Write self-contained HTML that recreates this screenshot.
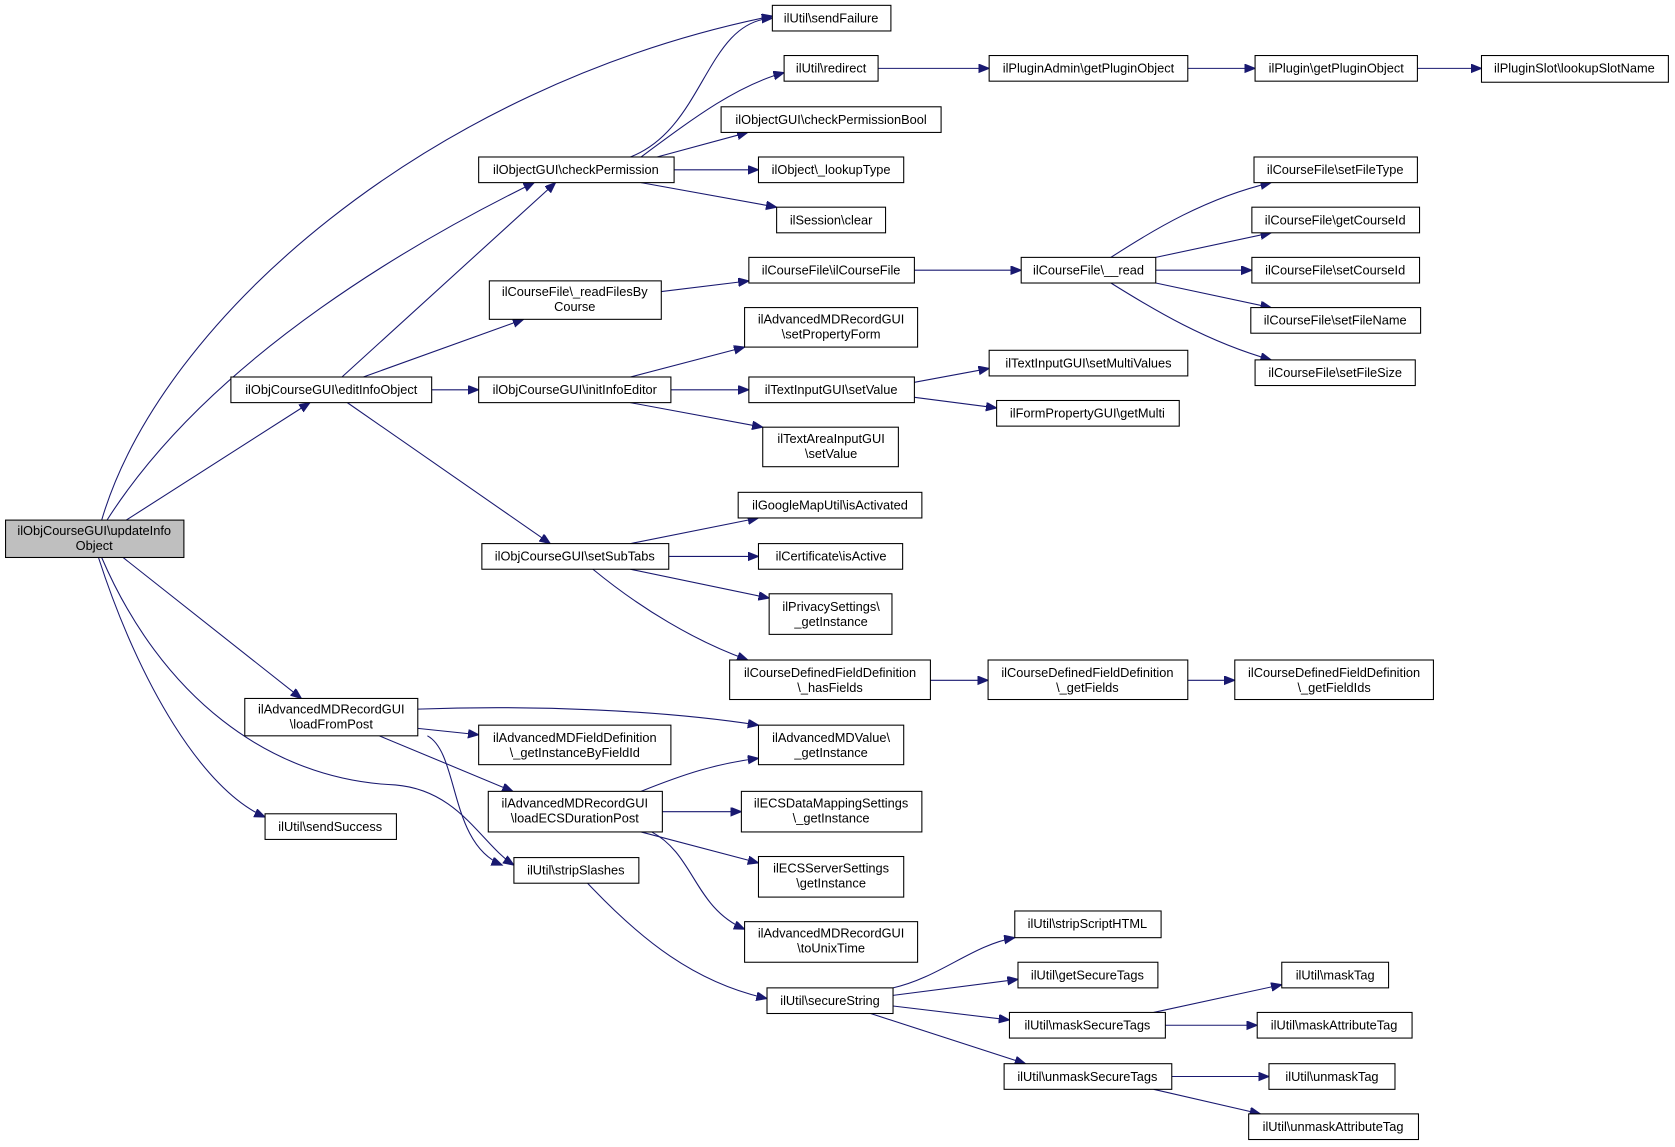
<!DOCTYPE html>
<html><head><meta charset="utf-8"><style>
html,body{margin:0;padding:0;background:#fff;}
svg{display:block;}
text{font-family:"Liberation Sans",sans-serif;font-size:12px;fill:#000;text-anchor:middle;}
rect{fill:#fff;stroke:#000;stroke-width:1;}
path{fill:none;stroke:#191970;stroke-width:1;}
</style></head><body>
<svg width="1675" height="1147" viewBox="0 0 1568 1074" xmlns="http://www.w3.org/2000/svg">
<defs><marker id="a" markerUnits="userSpaceOnUse" markerWidth="12" markerHeight="10" refX="10" refY="4" orient="auto"><polygon points="0,0 10,4 0,8" fill="#191970" stroke="#191970"/></marker></defs>
<g marker-end="url(#a)">
<path d="M95,487 C150,300 400,80 723,15"/>
<path d="M100,487 C200,330 400,220 500,171"/>
<path d="M118,487 L290,377"/>
<path d="M115,522 L282,654"/>
<path d="M92,522 C130,640 190,740 248,765"/>
<path d="M95,522 C150,650 250,730 370,735 C430,740 450,790 481,810"/>
<path d="M590,147 C660,120 660,20 723,17"/>
<path d="M600,147 C650,110 690,80 734,68"/>
<path d="M615,147 L700,124"/>
<path d="M631,159 L710,159"/>
<path d="M600,171 L727,194"/>
<path d="M320,353 L520,171"/>
<path d="M340,353 L490,299"/>
<path d="M404,365 L448,365"/>
<path d="M325,377 L515,509"/>
<path d="M822,64 L926,64"/>
<path d="M1112,64 L1175,64"/>
<path d="M1327,64 L1387,64"/>
<path d="M619,273 L701,263"/>
<path d="M856,253 L956,253"/>
<path d="M1040,241 C1080,215 1130,185 1190,171"/>
<path d="M1082,241 L1190,218"/>
<path d="M1082,253 L1172,253"/>
<path d="M1082,265 L1190,288"/>
<path d="M1040,265 C1080,290 1130,320 1190,337"/>
<path d="M590,353 L697,325"/>
<path d="M628,365 L701,365"/>
<path d="M590,377 L714,400"/>
<path d="M856,358 L926,345"/>
<path d="M856,372 L933,382"/>
<path d="M590,509 L710,485"/>
<path d="M626,521 L710,521"/>
<path d="M590,533 L720,560"/>
<path d="M555,533 C600,570 650,600 700,618"/>
<path d="M871,637 L925,637"/>
<path d="M1112,637 L1156,637"/>
<path d="M391,664 C500,660 620,665 710,679"/>
<path d="M391,682 L448,688"/>
<path d="M355,689 L480,741"/>
<path d="M400,689 C430,705 420,790 470,810"/>
<path d="M600,741 C640,725 670,715 710,710"/>
<path d="M620,760 L694,760"/>
<path d="M600,779 L710,808"/>
<path d="M610,779 C650,800 650,850 697,870"/>
<path d="M550,827 C600,880 650,920 718,935"/>
<path d="M836,925 C880,915 910,885 950,878"/>
<path d="M836,932 L953,917"/>
<path d="M836,942 L945,955"/>
<path d="M815,949 L960,996"/>
<path d="M1080,948 L1200,922"/>
<path d="M1091,960 L1177,960"/>
<path d="M1097,1008 L1188,1008"/>
<path d="M1080,1020 L1180,1043"/>
</g>
<rect x="5" y="487" width="167" height="35" style="fill:#bfbfbf"/><text x="88" y="501">ilObjCourseGUI\updateInfo</text><text x="88" y="515">Object</text>
<rect x="723" y="5" width="111" height="24"/><text x="778" y="21">ilUtil\sendFailure</text>
<rect x="448" y="147" width="183" height="24"/><text x="539" y="163">ilObjectGUI\checkPermission</text>
<rect x="734" y="52" width="88" height="24"/><text x="778" y="68">ilUtil\redirect</text>
<rect x="926" y="52" width="186" height="24"/><text x="1019" y="68">ilPluginAdmin\getPluginObject</text>
<rect x="1175" y="52" width="152" height="24"/><text x="1251" y="68">ilPlugin\getPluginObject</text>
<rect x="1387" y="52" width="175" height="25"/><text x="1474" y="68">ilPluginSlot\lookupSlotName</text>
<rect x="675" y="100" width="206" height="24"/><text x="778" y="116">ilObjectGUI\checkPermissionBool</text>
<rect x="710" y="147" width="136" height="24"/><text x="778" y="163">ilObject\_lookupType</text>
<rect x="727" y="194" width="102" height="24"/><text x="778" y="210">ilSession\clear</text>
<rect x="458" y="263" width="161" height="36"/><text x="538" y="277">ilCourseFile\_readFilesBy</text><text x="538" y="291">Course</text>
<rect x="701" y="241" width="155" height="24"/><text x="778" y="257">ilCourseFile\ilCourseFile</text>
<rect x="956" y="241" width="126" height="24"/><text x="1019" y="257">ilCourseFile\__read</text>
<rect x="1174" y="147" width="153" height="24"/><text x="1250" y="163">ilCourseFile\setFileType</text>
<rect x="1172" y="194" width="157" height="24"/><text x="1250" y="210">ilCourseFile\getCourseId</text>
<rect x="1172" y="241" width="157" height="24"/><text x="1250" y="257">ilCourseFile\setCourseId</text>
<rect x="1171" y="288" width="159" height="24"/><text x="1250" y="304">ilCourseFile\setFileName</text>
<rect x="1175" y="337" width="150" height="24"/><text x="1250" y="353">ilCourseFile\setFileSize</text>
<rect x="216" y="353" width="188" height="24"/><text x="310" y="369">ilObjCourseGUI\editInfoObject</text>
<rect x="448" y="353" width="180" height="24"/><text x="538" y="369">ilObjCourseGUI\initInfoEditor</text>
<rect x="697" y="288" width="162" height="37"/><text x="778" y="303">ilAdvancedMDRecordGUI</text><text x="778" y="317">\setPropertyForm</text>
<rect x="701" y="353" width="155" height="24"/><text x="778" y="369">ilTextInputGUI\setValue</text>
<rect x="926" y="328" width="186" height="24"/><text x="1019" y="344">ilTextInputGUI\setMultiValues</text>
<rect x="933" y="375" width="171" height="24"/><text x="1018" y="391">ilFormPropertyGUI\getMulti</text>
<rect x="714" y="400" width="127" height="37"/><text x="778" y="415">ilTextAreaInputGUI</text><text x="778" y="429">\setValue</text>
<rect x="691" y="461" width="172" height="24"/><text x="777" y="477">ilGoogleMapUtil\isActivated</text>
<rect x="451" y="509" width="175" height="24"/><text x="538" y="525">ilObjCourseGUI\setSubTabs</text>
<rect x="710" y="509" width="135" height="24"/><text x="778" y="525">ilCertificate\isActive</text>
<rect x="720" y="556" width="115" height="38"/><text x="778" y="572">ilPrivacySettings\</text><text x="778" y="586">_getInstance</text>
<rect x="683" y="618" width="188" height="37"/><text x="777" y="634">ilCourseDefinedFieldDefinition</text><text x="777" y="648">\_hasFields</text>
<rect x="925" y="618" width="187" height="37"/><text x="1018" y="634">ilCourseDefinedFieldDefinition</text><text x="1018" y="648">\_getFields</text>
<rect x="1156" y="618" width="186" height="37"/><text x="1249" y="634">ilCourseDefinedFieldDefinition</text><text x="1249" y="648">\_getFieldIds</text>
<rect x="229" y="654" width="162" height="35"/><text x="310" y="668">ilAdvancedMDRecordGUI</text><text x="310" y="682">\loadFromPost</text>
<rect x="448" y="679" width="180" height="37"/><text x="538" y="695">ilAdvancedMDFieldDefinition</text><text x="538" y="709">\_getInstanceByFieldId</text>
<rect x="710" y="679" width="136" height="37"/><text x="778" y="695">ilAdvancedMDValue\</text><text x="778" y="709">_getInstance</text>
<rect x="457" y="741" width="163" height="38"/><text x="538" y="756">ilAdvancedMDRecordGUI</text><text x="538" y="770">\loadECSDurationPost</text>
<rect x="694" y="741" width="169" height="38"/><text x="778" y="756">ilECSDataMappingSettings</text><text x="778" y="770">\_getInstance</text>
<rect x="710" y="802" width="136" height="38"/><text x="778" y="817">ilECSServerSettings</text><text x="778" y="831">\getInstance</text>
<rect x="248" y="762" width="123" height="24"/><text x="309" y="778">ilUtil\sendSuccess</text>
<rect x="481" y="803" width="117" height="24"/><text x="539" y="819">ilUtil\stripSlashes</text>
<rect x="697" y="863" width="162" height="38"/><text x="778" y="878">ilAdvancedMDRecordGUI</text><text x="778" y="892">\toUnixTime</text>
<rect x="950" y="853" width="137" height="25"/><text x="1018" y="869">ilUtil\stripScriptHTML</text>
<rect x="953" y="901" width="131" height="24"/><text x="1018" y="917">ilUtil\getSecureTags</text>
<rect x="718" y="925" width="118" height="24"/><text x="777" y="941">ilUtil\secureString</text>
<rect x="1200" y="901" width="100" height="24"/><text x="1250" y="917">ilUtil\maskTag</text>
<rect x="945" y="948" width="146" height="24"/><text x="1018" y="964">ilUtil\maskSecureTags</text>
<rect x="1177" y="948" width="145" height="24"/><text x="1249" y="964">ilUtil\maskAttributeTag</text>
<rect x="940" y="996" width="157" height="24"/><text x="1018" y="1012">ilUtil\unmaskSecureTags</text>
<rect x="1188" y="996" width="118" height="24"/><text x="1247" y="1012">ilUtil\unmaskTag</text>
<rect x="1169" y="1043" width="159" height="24"/><text x="1248" y="1059">ilUtil\unmaskAttributeTag</text>
</svg>
</body></html>
